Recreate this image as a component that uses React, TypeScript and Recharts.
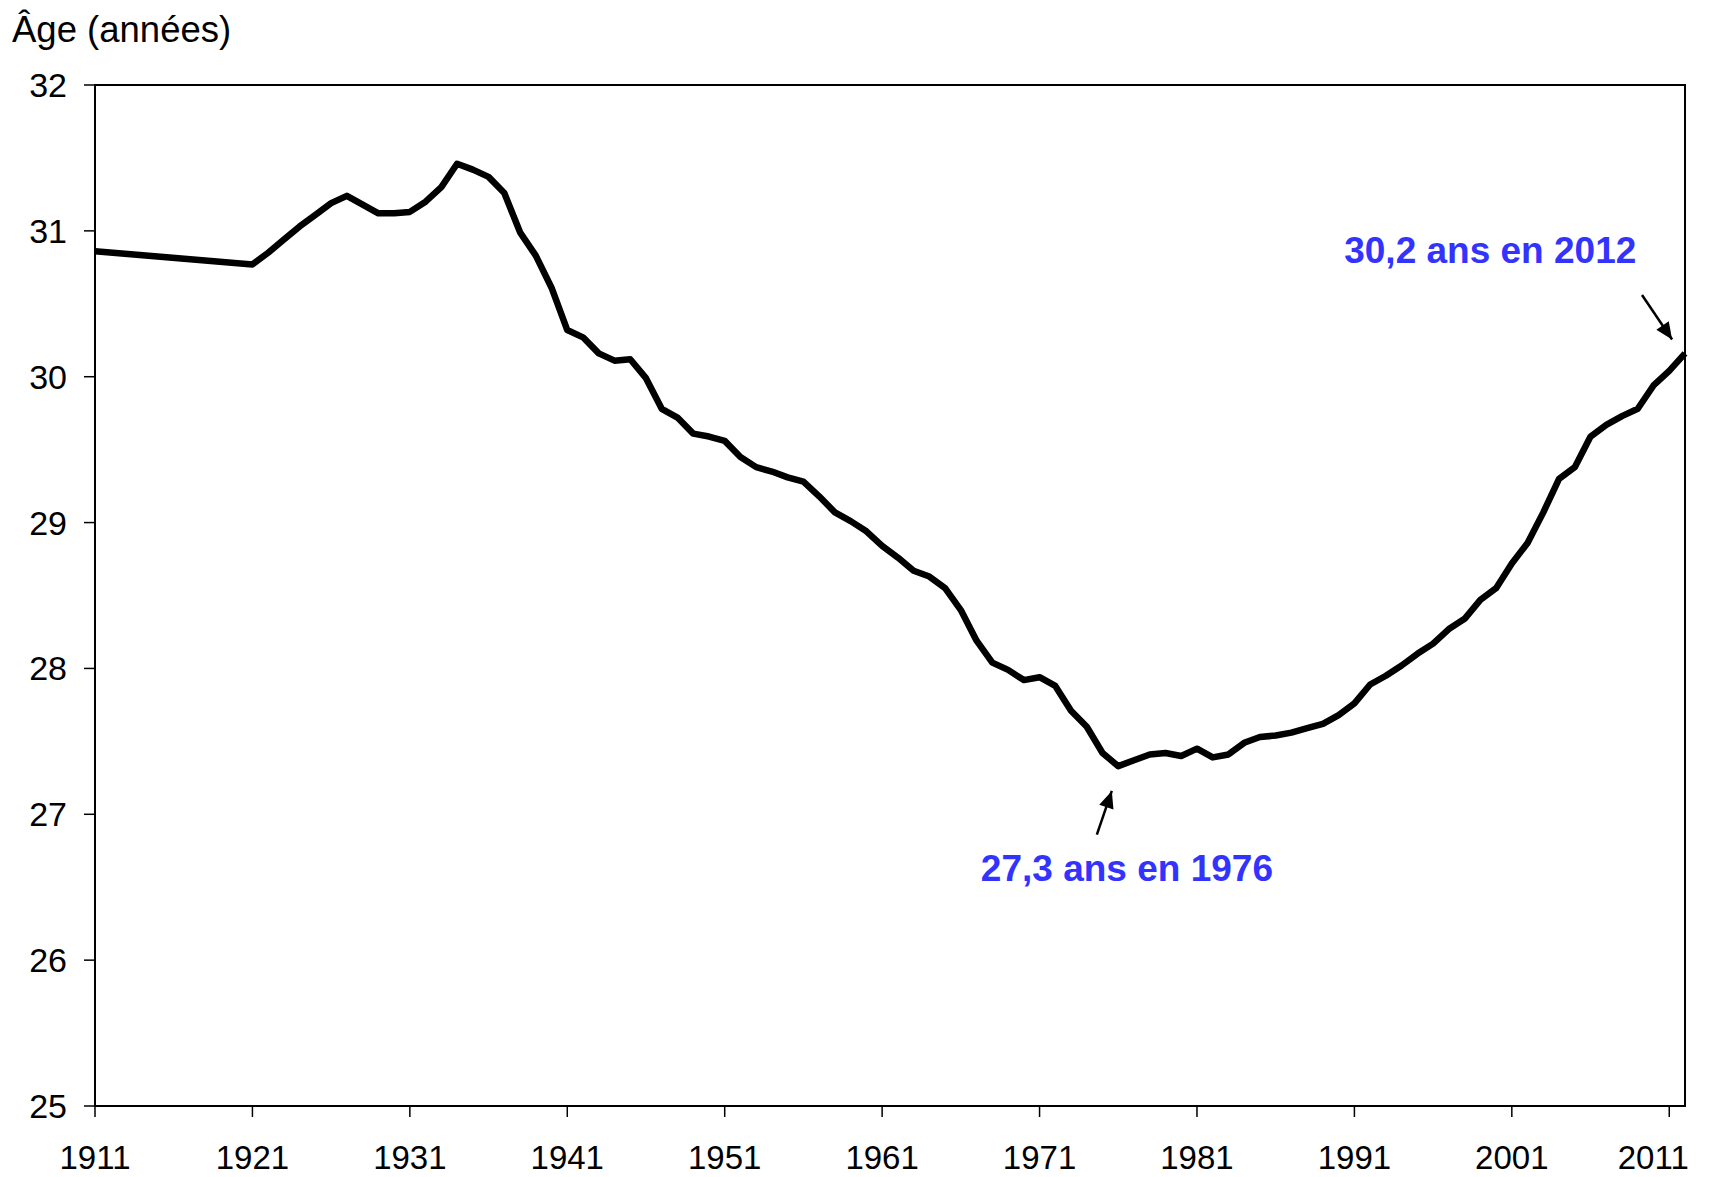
import { LineChart, Line, XAxis, YAxis, ReferenceArea, ReferenceLine, ReferenceDot } from 'recharts'

const years = [
  1911, 1921, 1922, 1923, 1924, 1925, 1926, 1927, 1928, 1929, 1930, 1931, 1932, 1933, 1934, 1935,
  1936, 1937, 1938, 1939, 1940, 1941, 1942, 1943, 1944, 1945, 1946, 1947, 1948, 1949, 1950, 1951,
  1952, 1953, 1954, 1955, 1956, 1957, 1958, 1959, 1960, 1961, 1962, 1963, 1964, 1965, 1966, 1967,
  1968, 1969, 1970, 1971, 1972, 1973, 1974, 1975, 1976, 1977, 1978, 1979, 1980, 1981, 1982, 1983,
  1984, 1985, 1986, 1987, 1988, 1989, 1990, 1991, 1992, 1993, 1994, 1995, 1996, 1997, 1998, 1999,
  2000, 2001, 2002, 2003, 2004, 2005, 2006, 2007, 2008, 2009, 2010, 2011, 2012,
]

// âge moyen
const ages = [
  30.86, 30.77, 30.85, 30.94, 31.03, 31.11, 31.19, 31.24, 31.18, 31.12, 31.12, 31.13, 31.2, 31.3, 31.46, 31.42,
  31.37, 31.26, 30.99, 30.83, 30.61, 30.32, 30.27, 30.16, 30.11, 30.12, 29.99, 29.78, 29.72, 29.61, 29.59, 29.56,
  29.45, 29.38, 29.35, 29.31, 29.28, 29.18, 29.07, 29.01, 28.94, 28.84, 28.76, 28.67, 28.63, 28.55, 28.4, 28.19,
  28.04, 27.99, 27.92, 27.94, 27.88, 27.71, 27.6, 27.42, 27.33, 27.37, 27.41, 27.42, 27.4, 27.45, 27.39, 27.41,
  27.49, 27.53, 27.54, 27.56, 27.59, 27.62, 27.68, 27.76, 27.89, 27.95, 28.02, 28.1, 28.17, 28.27, 28.34, 28.47,
  28.55, 28.72, 28.86, 29.07, 29.3, 29.38, 29.59, 29.67, 29.73, 29.78, 29.94, 30.04, 30.16,
]

const xTicks = [1911, 1921, 1931, 1941, 1951, 1961, 1971, 1981, 1991, 2001, 2011]
const yTicks = [25, 26, 27, 28, 29, 30, 31, 32]

const notes = [
  { label: '27,3 ans en 1976', x: 1976.55, y: 26.54, from: { x: 1974.64, y: 26.86 }, to: { x: 1975.59, y: 27.16 }, angle: -71.3 },
  { label: '30,2 ans en 2012', x: 1999.63, y: 30.78, from: { x: 2009.27, y: 30.56 }, to: { x: 2011.18, y: 30.255 }, angle: 55.9 },
]

const data = years.map((year, i) => ({ year, age: ages[i] }))

const FONT = '"Liberation Sans", Arial, sans-serif'
const BLUE = '#3333ff'

function XTick(props: any) {
  const { x, y, payload } = props
  // Excel pousse le dernier libellé un peu vers la gauche
  const shift = payload.value === 2011 ? -16 : 0
  return (
    <text x={x + shift} y={y} dy="0.71em" textAnchor="middle" fontSize={33} fontFamily={FONT} fill="#000">
      {payload.value}
    </text>
  )
}

export default function App() {
  return (
    <div style={{ position: 'absolute', left: 0, top: 0, width: 1725, height: 1177, background: '#fff' }}>
      <div
        style={{
          position: 'absolute',
          left: 12,
          top: 9,
          fontFamily: FONT,
          fontSize: 36.5,
          color: '#000',
          whiteSpace: 'nowrap',
        }}
      >
        Âge (années)
      </div>
      <LineChart width={1725} height={1177} data={data} margin={{ top: 85, right: 40, left: 0, bottom: 0 }}>
        <XAxis
          dataKey="year"
          type="number"
          domain={[1911, 2012]}
          ticks={xTicks}
          interval={0}
          height={71}
          tickSize={11}
          tickMargin={29}
          axisLine={{ stroke: '#000', strokeWidth: 2 }}
          tickLine={{ stroke: '#000', strokeWidth: 1.5 }}
          tick={<XTick />}
        />
        <YAxis
          type="number"
          domain={[25, 32]}
          ticks={yTicks}
          interval={0}
          width={95}
          tickSize={11}
          tickMargin={17}
          axisLine={{ stroke: '#000', strokeWidth: 2 }}
          tickLine={{ stroke: '#000', strokeWidth: 1.5 }}
          tick={{ fontSize: 34, fontFamily: FONT, fill: '#000' }}
        />
        <ReferenceArea x1={1911} x2={2012} y1={25} y2={32} fill="none" stroke="#000" strokeWidth={2} />
        <Line
          type="linear"
          dataKey="age"
          stroke="#000"
          strokeWidth={6.5}
          strokeLinejoin="round"
          dot={false}
          activeDot={false}
          isAnimationActive={false}
        />
        {notes.map((n) => (
          <ReferenceLine key={n.label + 'l'} segment={[n.from, n.to]} stroke="#000" strokeWidth={2.5} />
        ))}
        {notes.map((n) => (
          <ReferenceDot
            key={n.label + 'h'}
            x={n.to.x}
            y={n.to.y}
            r={0}
            shape={(p: any) => (
              <polygon
                points="0,0 -17,-7.5 -17,7.5"
                fill="#000"
                transform={`translate(${p.cx},${p.cy}) rotate(${n.angle})`}
              />
            )}
          />
        ))}
        {notes.map((n) => (
          <ReferenceDot
            key={n.label + 't'}
            x={n.x}
            y={n.y}
            r={0}
            shape={(p: any) => (
              <text x={p.cx} y={p.cy} textAnchor="middle" fontSize={37} fontWeight="bold" fontFamily={FONT} fill={BLUE}>
                {n.label}
              </text>
            )}
          />
        ))}
      </LineChart>
    </div>
  )
}
